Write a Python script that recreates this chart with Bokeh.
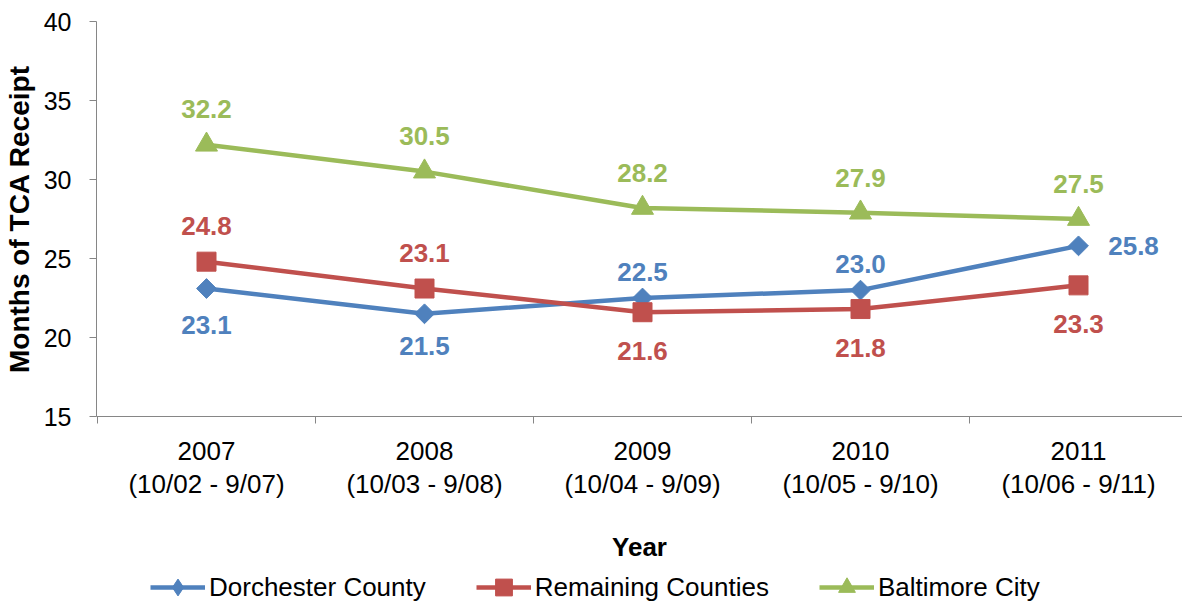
from bokeh.plotting import figure
from bokeh.layouts import column
from bokeh.models import Range1d, FixedTicker, Legend, LegendItem
from bokeh.core.properties import value
from bokeh.embed import file_html
from bokeh.resources import INLINE

years = ["2007", "2008", "2009", "2010", "2011"]
periods = ["(10/02 - 9/07)", "(10/03 - 9/08)", "(10/04 - 9/09)", "(10/05 - 9/10)", "(10/06 - 9/11)"]
dorchester = [23.1, 21.5, 22.5, 23.0, 25.8]
remaining = [24.8, 23.1, 21.6, 21.8, 23.3]
baltimore = [32.2, 30.5, 28.2, 27.9, 27.5]
y_ticks = [15, 20, 25, 30, 35, 40]

FONT = "Liberation Sans"
x = list(range(len(years)))

p = figure(width=1182, height=564, output_backend="svg", toolbar_location=None,
           x_range=Range1d(-0.5046, 4.477), y_range=Range1d(15, 40),
           min_border_left=96, min_border_top=21, min_border_right=0,
           min_border_bottom=145)
p.grid.visible = False
p.outline_line_color = None
p.background_fill_color = "white"
p.border_fill_color = "white"

# y axis
ya = p.yaxis[0]
ya.ticker = FixedTicker(ticks=y_ticks)
ya.axis_line_color = "#868686"
ya.major_tick_line_color = "#868686"
ya.major_tick_out = 7
ya.major_tick_in = 0
ya.minor_tick_line_color = None
ya.major_label_text_font = FONT
ya.major_label_text_font_size = "25px"
ya.major_label_text_color = "black"
ya.major_label_standoff = 18
ya.axis_label = "Months of TCA Receipt"
ya.axis_label_text_font = FONT
ya.axis_label_text_font_style = "bold"
ya.axis_label_text_font_size = "28px"
ya.axis_label_text_color = "black"
ya.axis_label_standoff = 6

# x axis: labels at category centres, ticks at boundaries
xa = p.xaxis[0]
xa.ticker = FixedTicker(ticks=x, minor_ticks=[i - 0.5 for i in range(len(years) + 1)])
xa.major_label_overrides = {i: f"{years[i]}\n{periods[i]}" for i in x}
xa.axis_line_color = "#868686"
xa.major_tick_line_color = None
xa.major_tick_out = 0
xa.major_tick_in = 0
xa.minor_tick_line_color = "#868686"
xa.minor_tick_out = 7
xa.minor_tick_in = 0
xa.major_label_text_font = FONT
xa.major_label_text_font_size = "26px"
xa.major_label_text_color = "black"
xa.major_label_text_line_height = 1.1
xa.major_label_standoff = 12
xa.axis_label = "Year"
xa.axis_label_text_font = FONT
xa.axis_label_text_font_style = "bold"
xa.axis_label_text_font_size = "26px"
xa.axis_label_text_color = "black"
xa.axis_label_standoff = 30

series = [
    ("Dorchester County", dorchester, "#4F81BD", "diamond"),
    ("Remaining Counties", remaining, "#C0504D", "square"),
    ("Baltimore City", baltimore, "#9BBB59", "triangle"),
]
# label placement (screen offsets) per point
offsets = {
    "Dorchester County": ([0, 0, 0, 0, 55], [36, 32, -26, -26, 0]),
    "Remaining Counties": ([0, 0, 0, 0, 0], [-36, -36, 39, 39, 39]),
    "Baltimore City": ([0, 0, 0, 0, 0], [-36, -36, -35, -35, -35]),
}

# separate strip for the legend, below the chart (its view holds no data)
lg = figure(width=1182, height=40, output_backend="svg", toolbar_location=None,
            x_axis_type=None, y_axis_type=None, min_border=0,
            x_range=Range1d(-0.5046, 4.477), y_range=Range1d(0, 1))
lg.grid.visible = False
lg.outline_line_color = None

items = []
for name, vals, color, kind in series:
    if kind == "diamond":
        mk = dict(marker="square", angle=0.785398, size=14)
        legend_marker = "diamond"
    elif kind == "square":
        mk = dict(marker="square", size=19)
        legend_marker = "square"
    else:
        mk = dict(marker="triangle", size=22)
        legend_marker = "triangle"
    p.line(x, vals, line_color=color, line_width=4.5)
    p.scatter(x, vals, fill_color=color, line_color=color, **mk)
    xo, yo = offsets[name]
    p.text(x=x, y=vals, text=[f"{v:.1f}" for v in vals], x_offset=xo, y_offset=yo,
           text_align="center", text_baseline="middle", text_font=value(FONT),
           text_font_style="bold", text_font_size="26px", text_color=color)
    # legend swatches: same series, outside the strip's visible y range
    lr = lg.line(x, vals, line_color=color, line_width=4.5)
    mr = lg.scatter(x, vals, fill_color=color, line_color=color, marker=legend_marker)
    items.append(LegendItem(label=name, renderers=[lr, mr]))

legend = Legend(items=items, orientation="horizontal", location=(54, -4),
                border_line_color=None, background_fill_alpha=0,
                label_text_font=FONT, label_text_font_size="26px",
                label_text_color="black", glyph_width=55, glyph_height=42,
                label_standoff=4, spacing=50, padding=0, margin=0)
lg.add_layout(legend)

layout = column(p, lg, spacing=0)
open("out.html", "w").write(file_html(layout, INLINE))
